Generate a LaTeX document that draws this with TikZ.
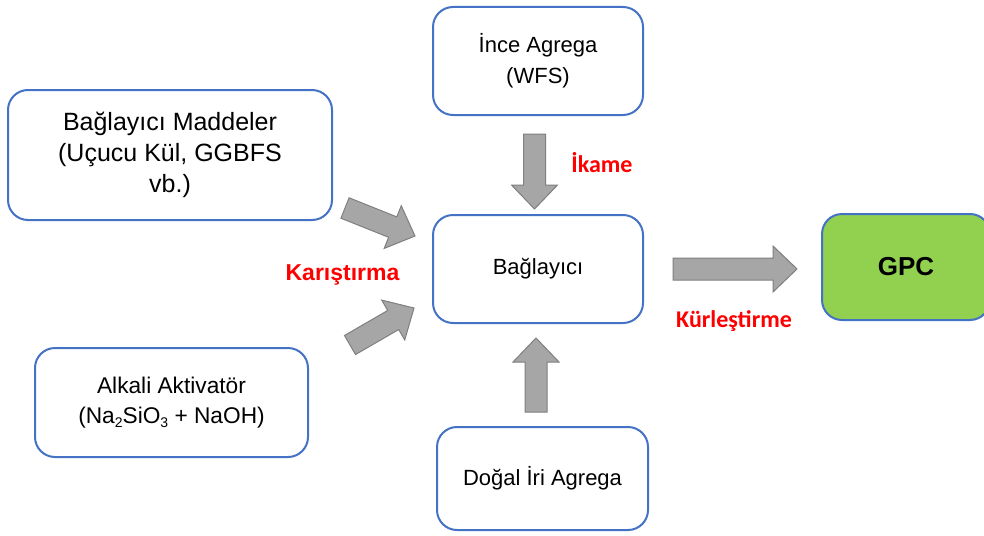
\documentclass[tikz,border=0pt]{standalone}
\usepackage{fontspec}
\setmainfont{Liberation Sans}
\newfontfamily\lblfont{Carlito}
\definecolor{boxblue}{HTML}{4472C4}
\definecolor{gpcgreen}{HTML}{92D050}
\definecolor{arrfill}{HTML}{A6A6A6}
\definecolor{arrline}{HTML}{7F7F7F}
\definecolor{lblred}{HTML}{FF0000}
\newcommand{\chemsub}[1]{\raisebox{-0.35ex}{\fontsize{14}{14}\selectfont #1}}
\newcommand{\blockarrow}[4]{%
  \pgfmathsetmacro\baang{atan2((#4)-(#2),(#3)-(#1))}%
  \pgfmathsetmacro\balen{veclen((#3)-(#1),(#4)-(#2))}%
  \begin{scope}[shift={(#1,#2)},rotate=\baang]
    \draw[barrow] (0,-11) -- (\balen-24,-11) -- (\balen-24,-23) -- (\balen,0)
      -- (\balen-24,23) -- (\balen-24,11) -- (0,11) -- cycle;
  \end{scope}}
\tikzset{
  box/.style={draw=boxblue, line width=2pt, rounded corners=20pt, fill=white,
    align=center, inner sep=0pt, font=\fontsize{22}{31}\selectfont},
  barrow/.style={fill=arrfill, draw=arrline, line width=1pt, line join=miter},
  lbl/.style={text=lblred, font=\lblfont\bfseries\fontsize{24}{28}\selectfont, inner sep=0pt}
}
\begin{document}
\begin{tikzpicture}[x=1pt,y=1pt]
\useasboundingbox[fill=white] (0,0) rectangle (984,-535);
\node[box, minimum width=324pt, minimum height=130pt, font=\fontsize{25}{31}\selectfont] (bm) at (170,-155)
  {Bağlayıcı Maddeler\\(Uçucu Kül, GGBFS\\vb.)};
\node[box, minimum width=273pt, minimum height=109pt, font=\fontsize{22.7}{30}\selectfont] (aa) at (171.5,-402.5)
  {Alkali Aktivatör\\(Na\chemsub{2}SiO\chemsub{3} + NaOH)};
\node[box, minimum width=210pt, minimum height=108pt] (ia) at (538,-61)
  {İnce Agrega\\(WFS)};
\node[box, minimum width=210pt, minimum height=108pt] (bg) at (538,-269)
  {Bağlayıcı};
\node[box, minimum width=211pt, minimum height=103pt] (di) at (542.5,-478.5)
  {Doğal İri Agrega};
\node[box, fill=gpcgreen, minimum width=168pt, minimum height=106pt,
  font=\bfseries\fontsize{26}{30}\selectfont] (gpc) at (906,-267) {GPC};
\node[lbl, font=\bfseries\fontsize{23}{28}\selectfont] (kar) at (342.5,-275) {Karıştırma};
\node[lbl] (ika) at (602,-163) {İkame};
\node[lbl] (kur) at (734,-321) {Kürleştirme};
\blockarrow{345}{-208}{415}{-236}
\blockarrow{350}{-345}{414}{-308}
\blockarrow{534.5}{-134}{534.5}{-209}
\blockarrow{536}{-412}{536}{-338}
\blockarrow{673}{-269}{797}{-269}
\end{tikzpicture}
\end{document}
